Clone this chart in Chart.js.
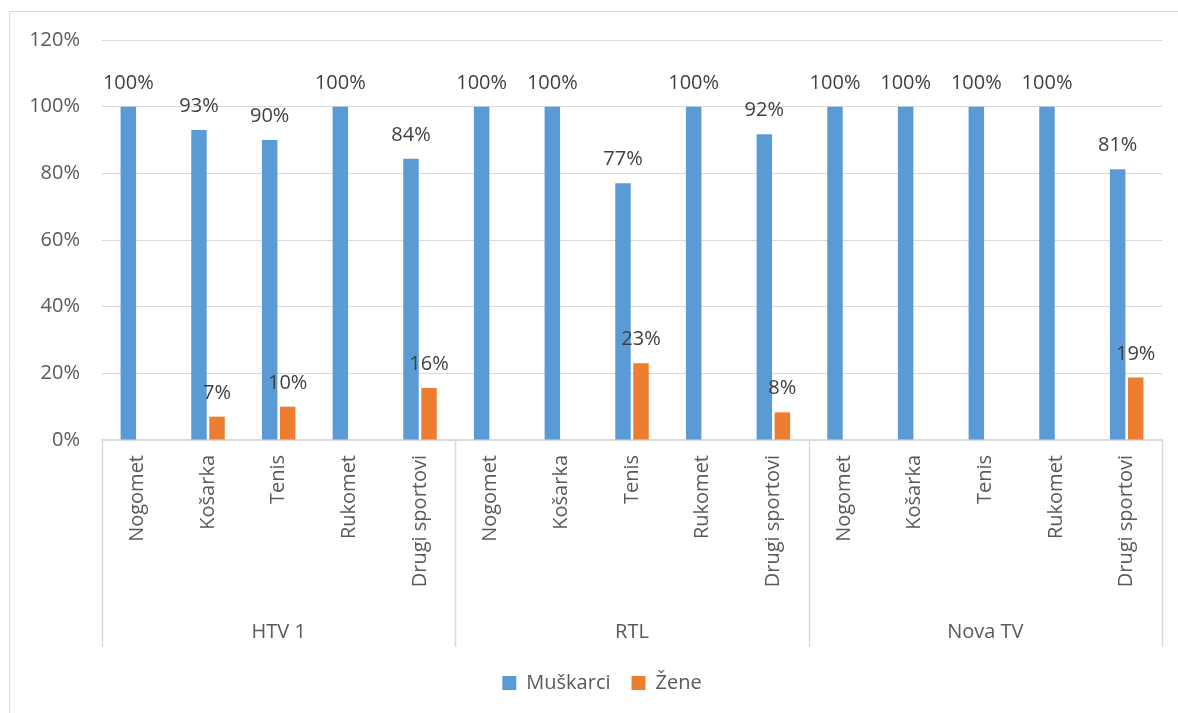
<!DOCTYPE html>
<html><head><meta charset="utf-8">
<script src="https://cdn.jsdelivr.net/npm/chart.js@4.4.1/dist/chart.umd.min.js"></script>
<style>html,body{margin:0;padding:0;background:#fff;overflow:hidden;}</style>
</head><body>
<canvas id="c" width="1178" height="713" style="display:block;width:1178px;height:713px"></canvas>
<script>
const categories = ['Nogomet','Košarka','Tenis','Rukomet','Drugi sportovi',
                    'Nogomet','Košarka','Tenis','Rukomet','Drugi sportovi',
                    'Nogomet','Košarka','Tenis','Rukomet','Drugi sportovi'];
const groups = ['HTV 1','RTL','Nova TV'];
const groupSizes = [5,5,5];
const muskarci = [100,93,90,100,84.4, 100,100,77,100,91.7, 100,100,100,100,81.25];
const zene     = [0,7,10,0,15.6, 0,0,23,0,8.3, 0,0,0,0,18.75];
const seriesNames = ['Muškarci','Žene'];
const yMin = 0, yMax = 120, yStep = 20;

const FONT = "'Open Sans', 'Noto Sans', sans-serif";
const GRID = '#d9d9d9';
const TXT = '#595959';

const decorPlugin = {
  id: 'decor',
  beforeDraw(chart) {
    const ctx = chart.ctx;
    ctx.save();
    ctx.strokeStyle = GRID; ctx.lineWidth = 1;
    ctx.beginPath();
    ctx.moveTo(9.5, 713); ctx.lineTo(9.5, 11.5); ctx.lineTo(1178, 11.5);
    ctx.stroke();
    ctx.restore();
  },
  afterDraw(chart) {
    const ctx = chart.ctx, x = chart.scales.x, area = chart.chartArea;
    const w = x.getPixelForValue(1) - x.getPixelForValue(0);
    ctx.save();
    // value labels
    ctx.font = '20px ' + FONT; ctx.fillStyle = '#404040';
    ctx.textAlign = 'center'; ctx.textBaseline = 'alphabetic';
    chart.data.datasets.forEach((ds, di) => {
      const meta = chart.getDatasetMeta(di);
      meta.data.forEach((bar, i) => {
        const v = ds.data[i];
        if (!v) return;
        ctx.fillText(Math.round(v) + '%', bar.x, bar.y - 18);
      });
    });
    // group separators and labels
    ctx.strokeStyle = GRID; ctx.lineWidth = 1.5;
    const yTop = area.bottom, yBot = 647;
    let start = 0;
    const bounds = [];
    bounds.push(x.getPixelForValue(0) - w/2);
    groupSizes.forEach(n => { start += n; bounds.push(x.getPixelForValue(start - 1) + w/2); });
    bounds.forEach(b => {
      ctx.beginPath(); ctx.moveTo(Math.round(b)+0.5, yTop); ctx.lineTo(Math.round(b)+0.5, yBot); ctx.stroke();
    });
    ctx.fillStyle = TXT; ctx.font = '20px ' + FONT;
    ctx.textAlign = 'center'; ctx.textBaseline = 'middle';
    groups.forEach((g, gi) => {
      ctx.fillText(g, (bounds[gi] + bounds[gi+1]) / 2, 632);
    });
    ctx.restore();
  }
};

new Chart(document.getElementById('c'), {
  type: 'bar',
  data: {
    labels: categories,
    datasets: [
      { label: seriesNames[0], data: muskarci, backgroundColor: '#5B9BD5', borderWidth: 0,
        categoryPercentage: 0.51, barPercentage: 0.86 },
      { label: seriesNames[1], data: zene, backgroundColor: '#ED7D31', borderWidth: 0,
        categoryPercentage: 0.51, barPercentage: 0.86 }
    ]
  },
  options: {
    responsive: false,
    animation: false,
    devicePixelRatio: 1,
    layout: { padding: { top: 40, right: 0, left: 26, bottom: 10 } },
    plugins: {
      legend: {
        position: 'bottom',
        labels: { font: { family: FONT, size: 20 }, color: TXT, boxWidth: 14, boxHeight: 14, padding: 21 }
      },
      tooltip: { enabled: false }
    },
    scales: {
      x: {
        grid: { display: false, drawTicks: false },
        border: { display: true, color: GRID, width: 1.5 },
        ticks: { autoSkip: false, minRotation: 90, maxRotation: 90, padding: 15,
                 font: { family: FONT, size: 20 }, color: TXT },
        afterFit(s) { s.height = 212; }
      },
      y: {
        min: yMin, max: yMax,
        grid: { color: GRID, lineWidth: 1, drawTicks: false },
        border: { display: false },
        ticks: { stepSize: yStep, padding: 22, font: { family: FONT, size: 20 }, color: TXT,
                 callback: v => v + '%' },
        afterFit(s) { s.width = 76; }
      },
      y2: {
        position: 'right',
        min: 0, max: 1,
        grid: { display: false, drawTicks: false },
        border: { display: false },
        ticks: { display: false },
        afterFit(s) { s.width = 16; }
      }
    }
  },
  plugins: [decorPlugin]
});
</script>
</body></html>
